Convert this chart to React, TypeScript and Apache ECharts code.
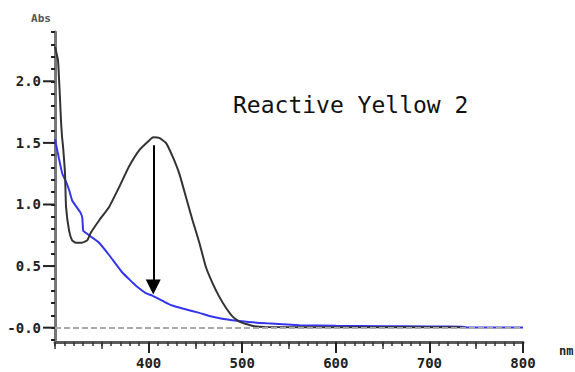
import React, { useEffect, useRef } from "react";
import * as echarts from "echarts";

const blackNm = [300, 303.2, 304.3, 305.4, 306.4, 307.5, 308.6, 310.7, 311.8, 315, 318.2, 322.2, 328.9, 334.6, 338.2, 347.1, 357.8, 368.5, 379.2, 389.9, 400.6, 405, 411.3, 418.5, 425.6, 432.8, 439.9, 447, 454.2, 461.3, 468.4, 475.6, 482.8, 489.8, 497, 504.2, 513, 524, 600, 700, 735];
const blackAbs = [2.28, 2.17, 2.02, 1.85, 1.68, 1.55, 1.47, 1.25, 0.98, 0.79, 0.71, 0.69, 0.69, 0.71, 0.77, 0.87, 0.98, 1.14, 1.31, 1.44, 1.52, 1.545, 1.54, 1.5, 1.39, 1.25, 1.06, 0.87, 0.69, 0.49, 0.36, 0.25, 0.16, 0.09, 0.05, 0.03, 0.012, 0.005, 0.004, 0.003, 0.003];

const blueNm = [300, 304.3, 307.8, 311.5, 315, 318.5, 323.9, 327.5, 329.2, 330, 331, 338.2, 347.1, 357.8, 371.7, 382.4, 386.5, 397, 403.9, 416.8, 425.3, 436.4, 454.2, 464.9, 489.5, 525.9, 561.2, 600, 650, 700, 735, 740, 800];
const blueAbs = [1.53, 1.37, 1.25, 1.19, 1.12, 1.03, 0.97, 0.93, 0.89, 0.79, 0.78, 0.74, 0.69, 0.59, 0.45, 0.37, 0.34, 0.28, 0.26, 0.21, 0.18, 0.155, 0.12, 0.095, 0.06, 0.035, 0.02, 0.015, 0.012, 0.01, 0.008, 0.002, 0.002];

const yMajorTicks = [0, 0.5, 1.0, 1.5, 2.0];
const arrowNm = 405;
const arrowFrom = 1.48;
const arrowTo = 0.33;
const title = "Reactive Yellow 2";

const monoFont = "DejaVu Sans Mono";

export default function App() {
  const ref = useRef<HTMLDivElement>(null);
  useEffect(() => {
    const chart = echarts.init(ref.current!, null, { renderer: "svg" });
    const xBase = {
      type: "value" as const,
      min: 300,
      max: 800,
      position: "bottom" as const,
      offset: 2,
      splitLine: { show: false },
    };
    chart.setOption({
      animation: false,
      backgroundColor: "#ffffff",
      grid: { left: 55, right: 52, top: 32, bottom: 32 },
      xAxis: [
        {
          ...xBase,
          interval: 10,
          axisLine: { show: true, onZero: false, lineStyle: { color: "#5a5a5a", width: 3 } },
          axisTick: { show: true, length: 4, lineStyle: { color: "#333", width: 1.5 } },
          axisLabel: { show: false },
        },
        {
          ...xBase,
          interval: 50,
          axisLine: { show: false, onZero: false },
          axisTick: { show: true, length: 7, lineStyle: { color: "#333", width: 1.5 } },
          axisLabel: { show: false },
        },
        {
          ...xBase,
          interval: 100,
          axisLine: { show: false, onZero: false },
          axisTick: { show: true, length: 11, lineStyle: { color: "#222", width: 2 } },
          axisLabel: {
            show: true,
            showMinLabel: false,
            margin: 14,
            color: "#222",
            fontFamily: monoFont,
            fontSize: 14,
            fontWeight: "bold",
          },
        },
      ],
      yAxis: {
        type: "value",
        min: -0.1,
        max: 2.4,
        interval: 0.1,
        splitLine: { show: false },
        axisLine: { show: true, onZero: false, lineStyle: { color: "#777", width: 3 } },
        axisTick: { show: true, length: 4, lineStyle: { color: "#222", width: 2 } },
        axisLabel: {
          show: true,
          margin: 14,
          color: "#222",
          fontFamily: monoFont,
          fontSize: 14,
          fontWeight: "bold",
          formatter: (v: number) => {
            if (Math.abs(v) < 1e-6) return "-0.0";
            if (Math.abs(v * 2 - Math.round(v * 2)) < 1e-6) return v.toFixed(1);
            return "";
          },
        },
      },
      graphic: [
        {
          type: "text",
          left: 233,
          top: 93,
          style: { text: title, fontFamily: monoFont, fontSize: 23, fill: "#111" },
        },
        {
          type: "text",
          x: 41,
          y: 18,
          style: { text: "Abs", fontFamily: monoFont, fontSize: 11, fill: "#555", fontWeight: "bold", align: "center", verticalAlign: "middle" },
        },
        {
          type: "text",
          x: 559,
          y: 351,
          style: { text: "nm", fontFamily: monoFont, fontSize: 12, fill: "#222", fontWeight: "bold", verticalAlign: "middle" },
        },
      ],
      series: [
        {
          type: "line",
          name: "zero",
          data: [],
          z: 1,
          markLine: {
            silent: true,
            symbol: ["none", "none"],
            label: { show: false },
            lineStyle: { color: "#aaaaaa", type: [6, 3], width: 2 },
            data: [{ yAxis: 0 }],
          },
        },
        {
          type: "line",
          name: "blue",
          data: blueNm.map((x, i) => [x, blueAbs[i]]),
          showSymbol: false,
          smooth: 0.15,
          z: 3,
          lineStyle: { color: "#3535ee", width: 2 },
        },
        {
          type: "line",
          name: "black",
          data: blackNm.map((x, i) => [x, blackAbs[i]]),
          showSymbol: false,
          smooth: 0.15,
          z: 4,
          lineStyle: { color: "#333333", width: 2 },
          markLine: {
            silent: true,
            symbol: ["none", "triangle"],
            symbolSize: 15,
            label: { show: false },
            lineStyle: { color: "#000", type: "solid", width: 2 },
            data: [[{ coord: [arrowNm, arrowFrom] }, { coord: [arrowNm, arrowTo] }]],
          },
        },
        {
          type: "custom",
          name: "ymajor",
          data: yMajorTicks.map((v) => [300, v]),
          z: 6,
          silent: true,
          clip: false,
          renderItem: (params: any, api: any) => {
            const p = api.coord([api.value(0), api.value(1)]);
            return {
              type: "line",
              shape: { x1: p[0] - 12, y1: p[1], x2: p[0] - 1, y2: p[1] },
              style: { stroke: "#222", lineWidth: 2 },
            };
          },
        },
      ],
    });
    return () => chart.dispose();
  }, []);
  return <div ref={ref} style={{ position: "fixed", left: 0, top: 0, width: 575, height: 372 }} />;
}
